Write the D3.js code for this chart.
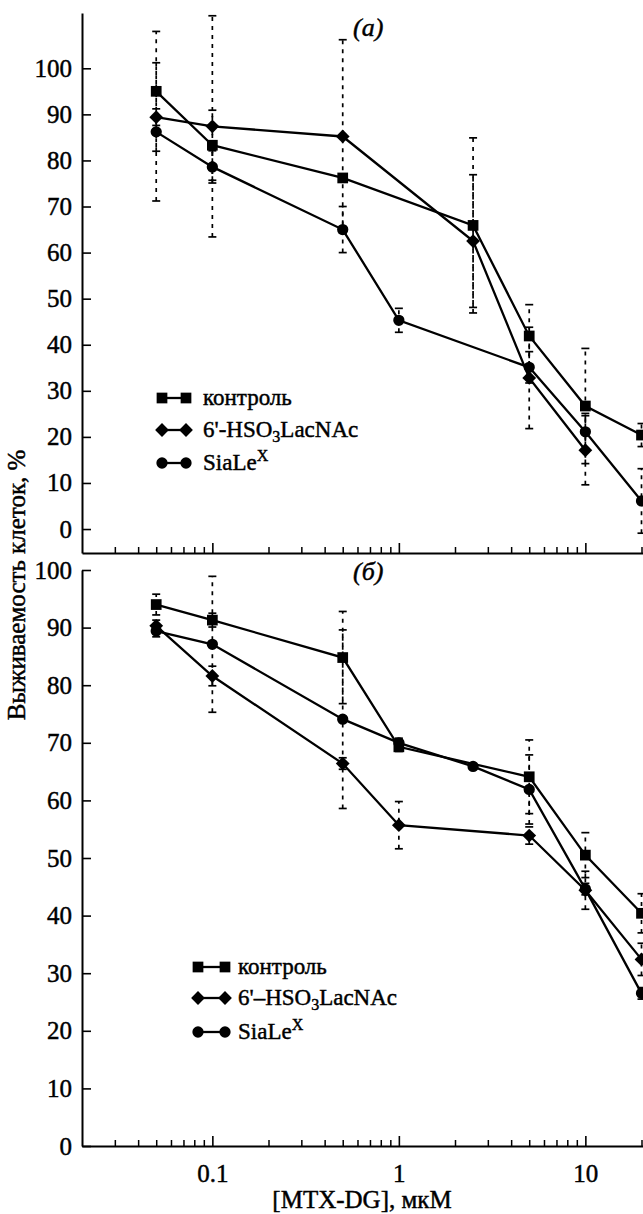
<!DOCTYPE html>
<html>
<head>
<meta charset="utf-8">
<script src="https://cdn.jsdelivr.net/npm/d3@7"></script>
<style>
  body { margin: 0; background: #fff; }
  svg { display: block; font-family: "Liberation Serif", "Times New Roman", serif; }
  svg text { stroke: #000; stroke-width: 0.45px; fill: #000; }
  .axis path, .axis line { stroke: #000; }
  .axis text { font-size: 25px; font-family: "Liberation Serif", serif; }
</style>
</head>
<body>
<div id="chart"></div>
<script>
/* Data: panel (a) */
const ctrlA_x = [0.05, 0.1, 0.5, 2.5, 5, 10, 20]
const ctrlA_y = [95, 83.3, 76.2, 65.9, 41.9, 26.7, 20.4]
const ctrlA_e = [13, 7.6, 0.8, 19, 6.8, 12.5, 2.5]
const sulfA_x = [0.05, 0.1, 0.5, 2.5, 5, 10]
const sulfA_y = [89.4, 87.4, 85.2, 62.5, 32.8, 17.1]
const sulfA_e = [1.8, 24, 21, 14.4, 11, 7.5]
const siaA_x = [0.05, 0.1, 0.5, 1, 5, 10, 20]
const siaA_y = [86.2, 78.6, 65.0, 45.3, 35.1, 21.1, 6.1]
const siaA_e = [15, 3.5, 5, 2.6, 3.4, 4, 7]
/* Data: panel (b) */
const ctrlB_x = [0.05, 0.1, 0.5, 1, 5, 10, 20]
const ctrlB_y = [94.0, 91.3, 84.8, 69.3, 64.1, 50.5, 40.4]
const ctrlB_e = [1.8, 1.2, 8, 0.8, 6.4, 3.9, 3.4]
const sulfB_x = [0.05, 0.1, 0.5, 1, 5, 10, 20]
const sulfB_y = [90.3, 81.6, 66.4, 55.7, 53.9, 44.4, 32.4]
const sulfB_e = [1, 1.7, 1, 4.1, 1.5, 3.3, 2.8]
const siaB_x = [0.05, 0.1, 0.5, 1, 2.5, 5, 10, 20]
const siaB_y = [89.4, 87.1, 74.1, 70.0, 65.9, 61.9, 44.6, 26.5]
const siaB_e = [1, 11.8, 15.5, 0.8, 0.5, 6, 1, 1]
/* Ticks and labels */
const yTicks = [0, 10, 20, 30, 40, 50, 60, 70, 80, 90, 100]
const xMajor = [0.1, 1, 10]
const xMinor = [0.03, 0.04, 0.05, 0.06, 0.07, 0.08, 0.09, 0.2, 0.3, 0.4, 0.5, 0.6, 0.7, 0.8, 0.9,
                2, 3, 4, 5, 6, 7, 8, 9, 20, 30]
const legendA = ["контроль", "6'-HSO", "SiaLe"]
const legendB = ["контроль", "6'–HSO", "SiaLe"]

/* Layout */
const WIDTH = 643
const HEIGHT = 1214
const LEFT = 82

const svg = d3.select("#chart").append("svg")
              .attr("width", WIDTH)
              .attr("height", HEIGHT);

const x = d3.scaleLog().domain([0.02, 40]).range([LEFT, LEFT + 186.5 * Math.log10(2000)]);
const yA = d3.scaleLinear().domain([-5.2, 112]).range([553, 13]);
const yB = d3.scaleLinear().domain([0, 100]).range([1146, 570]);

/* Helper functions */
const drawAxes = (y, bottom, withLabels) => {
  svg.append("g").attr("class", "axis")
     .attr("transform", "translate(" + LEFT + ",0)")
     .call(d3.axisLeft(y).tickValues(yTicks).tickSize(-9).tickSizeOuter(0).tickPadding(10))
     .call(g => g.selectAll("path").attr("stroke-width", 2))
     .call(g => g.selectAll("line").attr("stroke-width", 1.6));
  svg.append("g").attr("class", "axis")
     .attr("transform", "translate(0," + bottom + ")")
     .call(d3.axisBottom(x).tickValues(xMinor).tickSize(-6).tickSizeOuter(0).tickFormat(""))
     .call(g => g.selectAll("path").attr("stroke-width", 2))
     .call(g => g.selectAll("line").attr("stroke-width", 1.5));
  svg.append("g").attr("class", "axis")
     .attr("transform", "translate(0," + bottom + ")")
     .call(d3.axisBottom(x).tickValues(xMajor).tickSize(-10).tickSizeOuter(0).tickPadding(18)
             .tickFormat(withLabels ? (d => String(d)) : ""))
     .call(g => g.select("path").remove())
     .call(g => g.selectAll("line").attr("stroke-width", 1.6));
}

// diamond = square turned by 45 degrees
const symbolFor = {
  square: {d: d3.symbol().type(d3.symbolSquare).size(115)(), rot: 0},
  diamond: {d: d3.symbol().type(d3.symbolSquare).size(95)(), rot: 45},
  circle: {d: d3.symbol().type(d3.symbolCircle).size(100)(), rot: 0}
}
const placeSymbol = (sel, shape, px, py) =>
  sel.attr("transform", "translate(" + px + "," + py + ") rotate(" + symbolFor[shape].rot + ")")
     .attr("d", symbolFor[shape].d).attr("fill", "#000");

const drawSeries = (y, xs, ys, es, shape) => {
  const pts = xs.map((d, i) => ({x: d, y: ys[i], e: es[i]}));
  const g = svg.append("g");
  // dashed error bars with caps
  const eb = g.selectAll(".eb").data(pts).enter().append("g");
  eb.append("line")
    .attr("x1", d => x(d.x)).attr("x2", d => x(d.x))
    .attr("y1", d => y(d.y - d.e)).attr("y2", d => y(d.y + d.e))
    .attr("stroke", "#000").attr("stroke-width", 1.7).attr("stroke-dasharray", "4,5");
  [-1, 1].forEach(s => {
    eb.append("line")
      .attr("x1", d => x(d.x) - 4).attr("x2", d => x(d.x) + 4)
      .attr("y1", d => y(d.y + s * d.e)).attr("y2", d => y(d.y + s * d.e))
      .attr("stroke", "#000").attr("stroke-width", 1.7);
  });
  g.append("path").datum(pts)
   .attr("fill", "none").attr("stroke", "#000").attr("stroke-width", 2.3)
   .attr("d", d3.line().x(d => x(d.x)).y(d => y(d.y)));
  g.selectAll(".pt").data(pts).enter().append("path")
   .each(function(d) { placeSymbol(d3.select(this), shape, x(d.x), y(d.y)); });
}

const drawLegend = (labels, x0, x1, tx, rows) => {
  const shapes = ["square", "diamond", "circle"];
  shapes.forEach((s, i) => {
    const g = svg.append("g");
    g.append("line").attr("x1", x0).attr("x2", x1).attr("y1", rows[i]).attr("y2", rows[i])
     .attr("stroke", "#000").attr("stroke-width", 2.3);
    [x0, x1].forEach(px => placeSymbol(g.append("path"), s, px, rows[i]));
    const t = g.append("text").attr("x", tx).attr("y", rows[i] + 7)
               .attr("font-size", 23).text(labels[i]);
    if (i === 1) {
      t.append("tspan").attr("font-size", 16).attr("dy", 5).text("3");
      t.append("tspan").attr("dy", -5).text("LacNAc");
    }
    if (i === 2) {
      t.append("tspan").attr("font-size", 16).attr("dy", -9).text("X");
    }
  });
}

/* Panel (a) */
drawAxes(yA, 553, false);
drawSeries(yA, ctrlA_x, ctrlA_y, ctrlA_e, "square");
drawSeries(yA, sulfA_x, sulfA_y, sulfA_e, "diamond");
drawSeries(yA, siaA_x, siaA_y, siaA_e, "circle");
drawLegend(legendA, 162, 186, 203, [398, 430, 463]);
svg.append("text").attr("x", 353).attr("y", 36).attr("font-size", 26)
   .attr("font-style", "italic").text("(а)");

/* Panel (b) */
drawAxes(yB, 1146, true);
drawSeries(yB, ctrlB_x, ctrlB_y, ctrlB_e, "square");
drawSeries(yB, sulfB_x, sulfB_y, sulfB_e, "diamond");
drawSeries(yB, siaB_x, siaB_y, siaB_e, "circle");
drawLegend(legendB, 198, 225, 238, [967, 998, 1032]);
svg.append("text").attr("x", 353).attr("y", 580).attr("font-size", 26)
   .attr("font-style", "italic").text("(б)");

/* Axis titles */
svg.append("text").attr("transform", "translate(25,585) rotate(-90)")
   .attr("text-anchor", "middle").attr("font-size", 25).text("Выживаемость клеток, %");
svg.append("text").attr("x", 362).attr("y", 1208)
   .attr("text-anchor", "middle").attr("font-size", 25).text("[MTX-DG], мкМ");
</script>
</body>
</html>
